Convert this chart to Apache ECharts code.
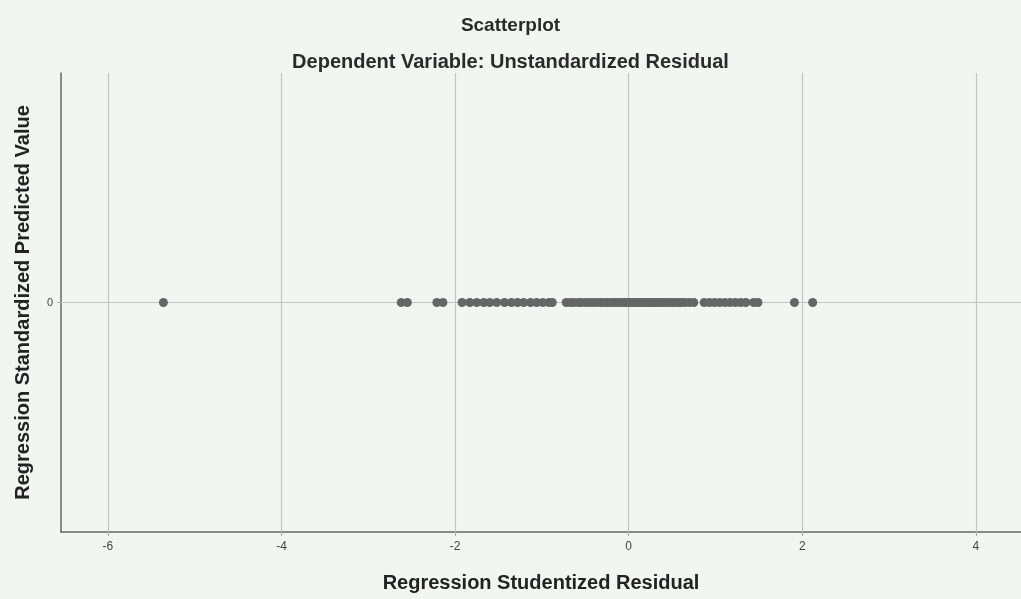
<!DOCTYPE html>
<html lang="en">
<head>
    <meta charset="utf-8">
    <title>Scatterplot</title>
    <script src="https://cdn.jsdelivr.net/npm/echarts@6.0.0/dist/echarts.min.js"></script>
    <style>* {
        margin: 0;
        padding: 0;
    }
    #chart-container {
        position: relative;
        width: 1021px;
        height: 599px;
        overflow: hidden;
        background: #f1f6f3;
    }</style>
</head>
<body>
    <div id="chart-container"></div>
    <script>
      // studentized residuals (x), predicted values are all 0 (y)
      var residuals = [
          -5.36, -2.62, -2.55, -2.21, -2.14,
          -1.92, -1.83, -1.75, -1.67, -1.60, -1.52, -1.43, -1.35, -1.28,
          -1.21, -1.13, -1.06, -0.99, -0.92, -0.88,
          -0.72, -0.67, -0.63, -0.58, -0.55, -0.50, -0.46, -0.42, -0.38, -0.33,
          -0.30, -0.26, -0.22, -0.18, -0.15, -0.11, -0.08, -0.05, -0.02, 0.01,
          0.03, 0.06, 0.09, 0.12, 0.14, 0.17, 0.20, 0.23, 0.25, 0.28,
          0.31, 0.34, 0.37, 0.40, 0.43, 0.46, 0.50, 0.53, 0.57, 0.61,
          0.65, 0.70, 0.75,
          0.87, 0.93, 0.99, 1.05, 1.11, 1.17, 1.23, 1.29, 1.35, 1.44, 1.49,
          1.91, 2.12
      ];
      var predicted = residuals.map(function () { return 0; });
      var xTicks = [-6, -4, -2, 0, 2, 4];
      var yTicks = [0];

      var points = residuals.map(function (r, i) { return [r, predicted[i]]; });

      var myChart = echarts.init(document.getElementById('chart-container'));
      myChart.setOption({
          backgroundColor: '#f1f6f3',
          animation: false,
          title: [
              {
                  text: 'Scatterplot',
                  left: 'center', top: 11,
                  textStyle: { fontSize: 19, fontWeight: 'bold', color: '#2a2a2a', fontFamily: 'Arial' }
              },
              {
                  text: 'Dependent Variable: Unstandardized Residual',
                  left: 'center', top: 47,
                  textStyle: { fontSize: 20, fontWeight: 'bold', color: '#2a2a2a', fontFamily: 'Arial' }
              }
          ],
          grid: { left: 61, right: 0, top: 73, bottom: 67, outerBoundsMode: 'none', containLabel: false },
          xAxis: {
              type: 'value',
              min: -6.54, max: 4.52,
              name: 'Regression Studentized Residual',
              nameLocation: 'middle', nameGap: 41,
              nameTextStyle: { fontSize: 20, fontWeight: 'bold', color: '#222', fontFamily: 'Arial' },
              axisLine: { onZero: false, lineStyle: { color: '#666', width: 1.5 } },
              axisTick: { customValues: xTicks, length: 4, lineStyle: { color: '#aaa' } },
              axisLabel: { customValues: xTicks, fontSize: 12, color: '#444', margin: 9 },
              splitLine: { show: false }
          },
          yAxis: {
              type: 'value',
              min: -1, max: 1,
              name: 'Regression Standardized Predicted Value',
              nameLocation: 'middle', nameGap: 28,
              nameTextStyle: { fontSize: 20, fontWeight: 'bold', color: '#222', fontFamily: 'Arial' },
              axisLine: { show: true, onZero: false, lineStyle: { color: '#666', width: 1.5 } },
              axisTick: { show: true, customValues: yTicks, length: 4, lineStyle: { color: '#aaa' } },
              axisLabel: { customValues: yTicks, fontSize: 11, color: '#444', margin: 8 },
              splitLine: { show: false }
          },
          series: [
              {
                  type: 'scatter',
                  data: points,
                  symbolSize: 9,
                  itemStyle: { color: '#666', opacity: 1 },
                  markLine: {
                      silent: true,
                      symbol: 'none',
                      label: { show: false },
                      lineStyle: { color: '#c4c4c4', width: 1.2, type: 'solid' },
                      data: xTicks.map(function (v) { return { xAxis: v }; })
                          .concat(yTicks.map(function (v) { return { yAxis: v }; }))
                  },
                  z: 5
              }
          ]
      });
  </script>
</body>
</html>
